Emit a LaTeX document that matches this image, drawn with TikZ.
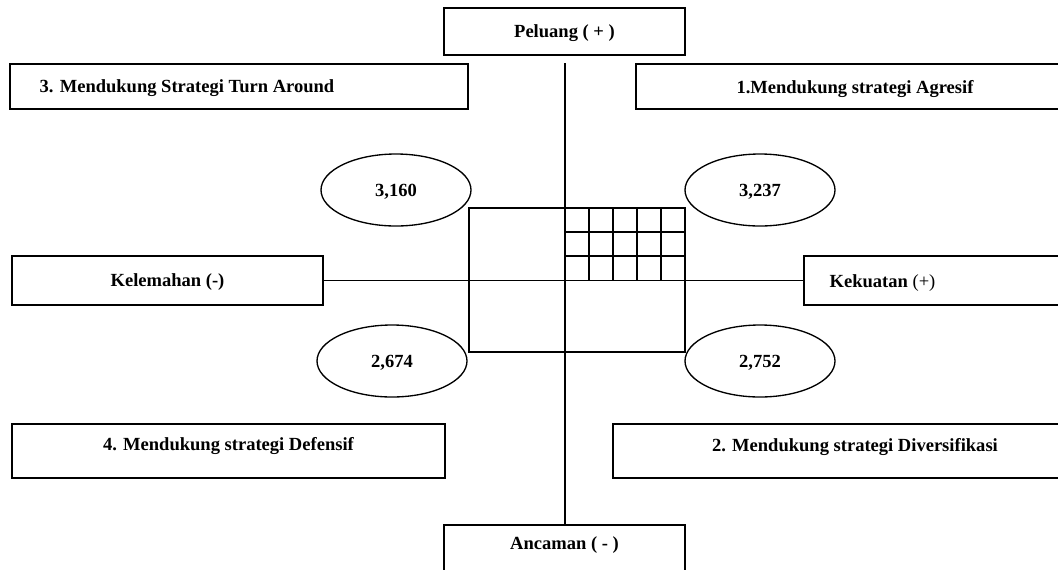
\documentclass[tikz,border=0pt]{standalone}
\usepackage{fontspec}
\setmainfont{Liberation Serif}
\usetikzlibrary{shapes.geometric}
\tikzset{
	box/.style={draw, line width=1.1pt, rectangle, inner sep=0pt},
	oval/.style={draw, line width=1pt, ellipse, inner sep=0pt,
		minimum width=112.5pt, minimum height=54pt},
	lbl/.style={font=\bfseries\fontsize{13.9}{16}\selectfont, text depth=0pt},
	axis/.style={line width=1pt},
}
\begin{document}
\begin{tikzpicture}[x=0.75pt, y=-0.75pt]
		\useasboundingbox (0,0) rectangle (1058,569);
		\clip (0,0) rectangle (1058,569);
		% kotak-kotak
		\node[box, lbl, minimum width=180.75pt, minimum height=35.25pt] (peluang) at (564.5,31.5) {Peluang ( + )};
		\node[box, minimum width=180.75pt, minimum height=35.25pt] (ancaman) at (564.5,548.5) {};
		\node[lbl] (ancamanTxt) at (564.5,543) {Ancaman ( - )};
		\node[box, minimum width=343.5pt, minimum height=33.75pt] (turn) at (239,86.5) {};
		\node[lbl, anchor=west] (turnTxt) at (35,86.5) {3. Mendukung Strategi Turn Around};
		\node[box, lbl, minimum width=328.5pt, minimum height=33.75pt] (agresif) at (855,86.5) {1.Mendukung strategi Agresif};
		\node[box, lbl, minimum width=233.25pt, minimum height=36.75pt] (kelemahan) at (167.5,280.5) {Kelemahan (-)};
		\node[box, minimum width=222pt, minimum height=36.75pt] (kekuatan) at (952,280.5) {};
		\node[lbl, anchor=west] (kekuatanTxt) at (825,281) {Kekuatan \normalfont(+)};
		\node[box, minimum width=324.75pt, minimum height=40.5pt] (defensif) at (228.5,451) {};
		\node[lbl] (defensifTxt) at (228.5,444) {4. Mendukung strategi Defensif};
		\node[box, minimum width=363pt, minimum height=40.5pt] (diversifikasi) at (855,451) {};
		\node[lbl] (diversifikasiTxt) at (855,445) {2. Mendukung strategi Diversifikasi};
		% nilai
		\node[oval, lbl] (o1) at (396,190) {3,160};
		\node[oval, lbl] (o2) at (760,190) {3,237};
		\node[oval, lbl] (o3) at (392,361) {2,674};
		\node[oval, lbl] (o4) at (760,361) {2,752};
		% sumbu
		\coordinate (atas) at (565,63);
		\draw[axis] (atas) -- (ancaman.north -| atas);
		\draw[axis] (kelemahan.east) -- (kekuatan.west);
		\draw[axis] (469,208) rectangle (685,352);
		\foreach \x in {589,613,637,661}
			\draw[axis] (\x,208) -- (\x,280);
		\foreach \y in {232,256}
			\draw[axis] (565,\y) -- (685,\y);
	\end{tikzpicture}
\end{document}
